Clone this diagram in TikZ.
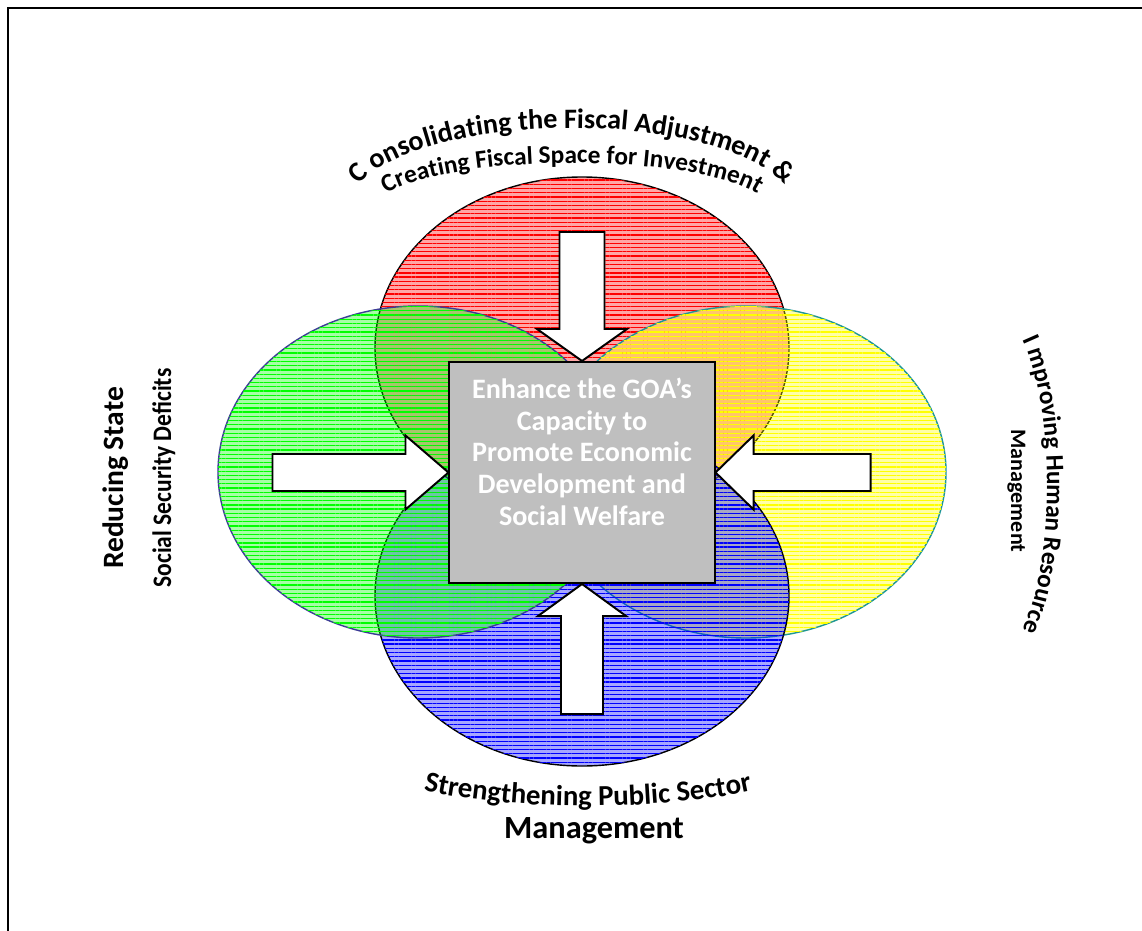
\documentclass[tikz,border=0pt]{standalone}
\usepackage{fontspec}
\newfontfamily\calibri{Carlito}
\newfontfamily\calibrinarrow[FakeStretch=0.88]{Carlito}
\usepackage{tikz}
\usetikzlibrary{patterns.meta,decorations.text}

\definecolor{ovalred}{RGB}{255,0,0}
\definecolor{ovalyellow}{RGB}{255,255,0}
\definecolor{ovalgreen}{RGB}{0,255,0}
\definecolor{ovalblue}{RGB}{0,0,255}
\definecolor{greenrim}{RGB}{60,60,150}
\definecolor{yellowrim}{RGB}{30,150,150}
\definecolor{boxgray}{RGB}{191,191,191}

\tikzset{
  oval/.style={line width=1pt, fill=#1, fill opacity=.35,
    postaction={fill opacity=.75, pattern={Lines[angle=0,distance=3pt,line width=.9pt]}, pattern color=#1}},
  blockarrow/.style={draw, fill=white, line width=1.4pt, line join=miter},
  goabox/.style={draw, fill=boxgray, line width=1.4pt, inner sep=0pt,
    minimum width=6.625cm, minimum height=5.525cm},
  goatext/.style={text=white, align=center, inner sep=0pt,
    font=\calibri\bfseries\fontsize{20}{22.5}\selectfont},
  sidetext/.style={inner sep=0pt, font=\calibri\bfseries\fontsize{#1}{#1}\selectfont},
  arctext/.style 2 args={decorate, decoration={text along path, text align=center,
    text={|\calibri\bfseries\fontsize{#1}{#1}\selectfont|#2}}},
}

\begin{document}
\begin{tikzpicture}[x=0.025cm, y=-0.025cm]
  \useasboundingbox (0,0) rectangle (1142,931);
  \draw[line width=1.4pt] (8,940) -- (8,8) -- (1150,8);

  % the four ovals, back to front
  \draw[oval=ovalred, draw=black] (582,348) ellipse [x radius=207, y radius=171];
  \draw[oval=ovalyellow, draw=yellowrim] (746,472) ellipse [x radius=200, y radius=166];
  \draw[oval=ovalblue, draw=black] (582,596) ellipse [x radius=207, y radius=170];
  \draw[oval=ovalgreen, draw=greenrim] (418,472) ellipse [x radius=200, y radius=166];

  % centre box
  \node[goabox] (goa) at (582,472.5) {};
  \node[goatext, anchor=north] (goacap) at ([yshift=-12pt]goa.north)
    {Enhance the GOA’s\\Capacity to\\Promote Economic\\Development and\\Social Welfare};

  % block arrows into the box
  \draw[blockarrow] (goa.north) -- ++(-45,-32) -- ++(22.5,0) -- ++(0,-97)
    -- ++(45,0) -- ++(0,97) -- ++(22.5,0) -- cycle;
  \draw[blockarrow] (goa.south) -- ++(-44,32) -- ++(23,0) -- ++(0,98)
    -- ++(42,0) -- ++(0,-98) -- ++(23,0) -- cycle;
  \draw[blockarrow] (goa.west) -- ++(-43,-37) -- ++(0,18.5) -- ++(-133,0)
    -- ++(0,37) -- ++(133,0) -- ++(0,18.5) -- cycle;
  \draw[blockarrow] (goa.east) -- ++(38,-37) -- ++(0,18.5) -- ++(117,0)
    -- ++(0,37) -- ++(-117,0) -- ++(0,18.5) -- cycle;

  % top
  \path[arctext={20}{C onsolidating the Fiscal Adjustment {\&}}]
    (350,208) arc [start angle=180, end angle=360, x radius=222, y radius=80];
  \path[arctext={18}{Creating Fiscal Space for Investment}]
    (374,211) arc [start angle=180, end angle=360, x radius=198, y radius=48];

  % left
  \node[sidetext=21, rotate=90, anchor=base] (reducing) at (123,478) {Reducing State};
  \node[sidetext=19, rotate=90, anchor=base, font=\calibrinarrow\bfseries\fontsize{19}{19}\selectfont]
    (socsec) at (171,478) {Social Security Deficits};

  % right
  \path[arctext={18}{I mproving Human Resource}]
    (992,310) arc [start angle=-90, end angle=90, x radius=55, y radius=175];
  \node[sidetext=15.7, rotate=-90, anchor=base] (hrmgmt) at (1011,491) {Management};

  % bottom
  \path[arctext={20.5}{Strengthening Public Sector}]
    (338,744) arc [start angle=180, end angle=0, x radius=250, y radius=62];
  \node[sidetext=23, anchor=base] (psmgmt) at (594,838) {Management};
\end{tikzpicture}
\end{document}
